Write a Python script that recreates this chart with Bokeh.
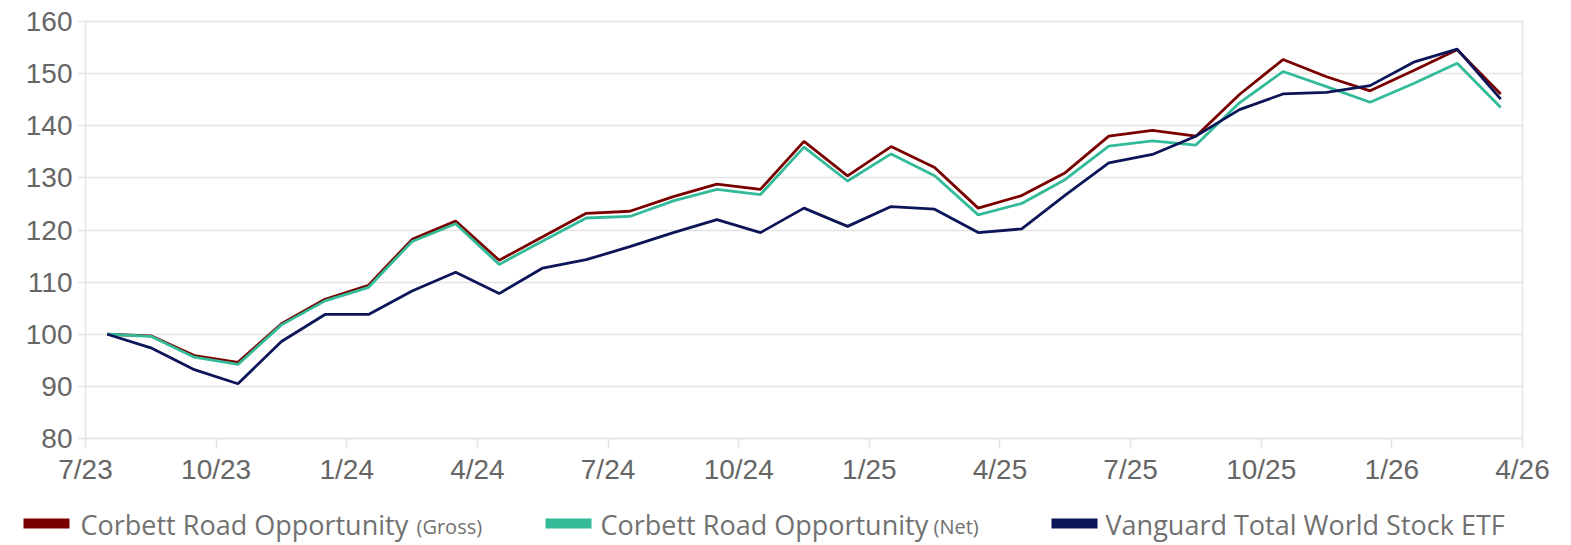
from bokeh.plotting import figure
from bokeh.models import (FixedTicker, Range1d, Label, BoxAnnotation, LinearAxis, Grid)
from bokeh.embed import file_html
from bokeh.resources import INLINE

# ---- data ----
tick_labels = ["7/23", "10/23", "1/24", "4/24", "7/24", "10/24",
               "1/25", "4/25", "7/25", "10/25", "1/26", "4/26"]
gross = [100, 99.7, 95.9, 94.6, 102.0, 106.7, 109.4, 118.2, 121.7, 114.2, 118.7,
         123.2, 123.6, 126.4, 128.8, 127.8, 137.0, 130.4, 136.0, 132.0, 124.2,
         126.6, 131.0, 138.0, 139.1, 138.0, 146.0, 152.7, 149.4, 146.7, 150.6,
         154.6, 146.1]
net = [100, 99.6, 95.6, 94.2, 101.8, 106.4, 109.0, 117.8, 121.2, 113.4, 117.9,
       122.3, 122.6, 125.6, 127.8, 126.8, 135.9, 129.4, 134.6, 130.4, 122.9,
       125.1, 129.7, 136.1, 137.1, 136.3, 144.4, 150.4, 147.5, 144.5, 148.1,
       152.0, 143.5]
vt = [100, 97.4, 93.2, 90.5, 98.6, 103.8, 103.8, 108.3, 111.9, 107.8, 112.7,
      114.3, 116.8, 119.5, 122.0, 119.5, 124.2, 120.7, 124.5, 124.0, 119.5,
      120.2, 126.7, 132.9, 134.5, 138.0, 143.1, 146.1, 146.4, 147.7, 152.2,
      154.7, 145.1]
series_names = ["Corbett Road Opportunity", "Corbett Road Opportunity",
                "Vanguard Total World Stock ETF"]
series_suffix = ["(Gross)", "(Net)", ""]
colors = ["#7a0000", "#33bb99", "#0c1558"]
y_ticks = [80, 90, 100, 110, 120, 130, 140, 150, 160]

months = [i + 0.5 for i in range(len(gross))]
n_months = 33
Y0, Y1 = 80, 160

# ---- layout geometry (pixels) ----
W, H = 1568, 544
FL, FT, FR, FB = 85, 21, 1522, 438          # plot area left/top/right/bottom
SX = (FR - FL) / n_months                   # px per month
SY = (FB - FT) / (Y1 - Y0)                  # px per index point
GRID = "#e3e3e3"
TXT = "#666666"
LEG_TXT = "#717171"


def px_x(px):
    return (px - FL) / SX


def px_y(py):
    return Y0 - (py - FB) / SY


# the frame covers the whole canvas; axes sit at fixed locations inside it
p = figure(width=W, height=H, x_range=Range1d(px_x(0), px_x(W)),
           y_range=Range1d(px_y(H), px_y(0)), output_backend="svg",
           toolbar_location=None, x_axis_location=None, y_axis_location=None,
           min_border=0)
p.min_border_left = p.min_border_right = p.min_border_top = p.min_border_bottom = 0
p.outline_line_color = None
p.background_fill_color = "white"
p.border_fill_color = "white"
for g in p.grid:
    g.visible = False

has_cross = "cross_bounds" in Grid.properties()
if has_cross:
    yg = Grid(dimension=1, ticker=FixedTicker(ticks=y_ticks), grid_line_color=GRID,
              grid_line_width=1.5, cross_bounds=(0, n_months))
    p.add_layout(yg, "center")

for data, col in zip([gross, net, vt], colors):
    p.line(months, data, line_color=col, line_width=2.8)

tick_pos = list(range(0, n_months + 1, 3))
xa = LinearAxis(fixed_location=Y0, bounds=(0, n_months),
                ticker=FixedTicker(ticks=tick_pos),
                major_label_overrides={t: lab for t, lab in zip(tick_pos, tick_labels)})
ya = LinearAxis(fixed_location=0, bounds=(Y0, Y1), ticker=FixedTicker(ticks=y_ticks))
for ax in (xa, ya):
    ax.axis_line_color = GRID
    ax.axis_line_width = 1.5
    ax.major_tick_line_color = GRID
    ax.major_tick_line_width = 1.5
    ax.minor_tick_line_color = None
    ax.major_tick_in = 0
    ax.major_label_text_font = "Liberation Sans"
    ax.major_label_text_font_size = "28px"
    ax.major_label_text_color = TXT
xa.major_tick_out = 10
xa.major_label_standoff = 5
ya.major_tick_out = 7
ya.major_label_standoff = 6
if not has_cross:
    ya.major_tick_in = FR - FL
p.add_layout(xa, "below")
p.add_layout(ya, "left")

# right-hand border of the plot area
ra = LinearAxis(fixed_location=n_months, bounds=(Y0, Y1), ticker=FixedTicker(ticks=[]),
                axis_line_color=GRID, axis_line_width=1.5, major_tick_line_color=None,
                minor_tick_line_color=None, major_label_text_alpha=0)
p.add_layout(ra, "right")

# ---- legend below the plot area ----
sw_px = [23, 545, 1051]
tx_px = [80, 600, 1105]
suf_px = [416, 933]
for sx, col in zip(sw_px, colors):
    p.add_layout(BoxAnnotation(left=px_x(sx), right=px_x(sx + 46),
                               top=px_y(518), bottom=px_y(528),
                               fill_color=col, fill_alpha=1.0, line_color=None))
for tx, name in zip(tx_px, series_names):
    p.add_layout(Label(x=px_x(tx), y=px_y(523.5), text=name,
                       text_font="Open Sans", text_font_size="27px",
                       text_color=LEG_TXT, text_baseline="middle", text_align="left"))
for sx, suf in zip(suf_px, series_suffix[:2]):
    p.add_layout(Label(x=px_x(sx), y=px_y(526.2), text=suf,
                       text_font="Open Sans", text_font_size="20px",
                       text_color=LEG_TXT, text_baseline="middle", text_align="left"))

open("out.html", "w").write(file_html(p, INLINE))
